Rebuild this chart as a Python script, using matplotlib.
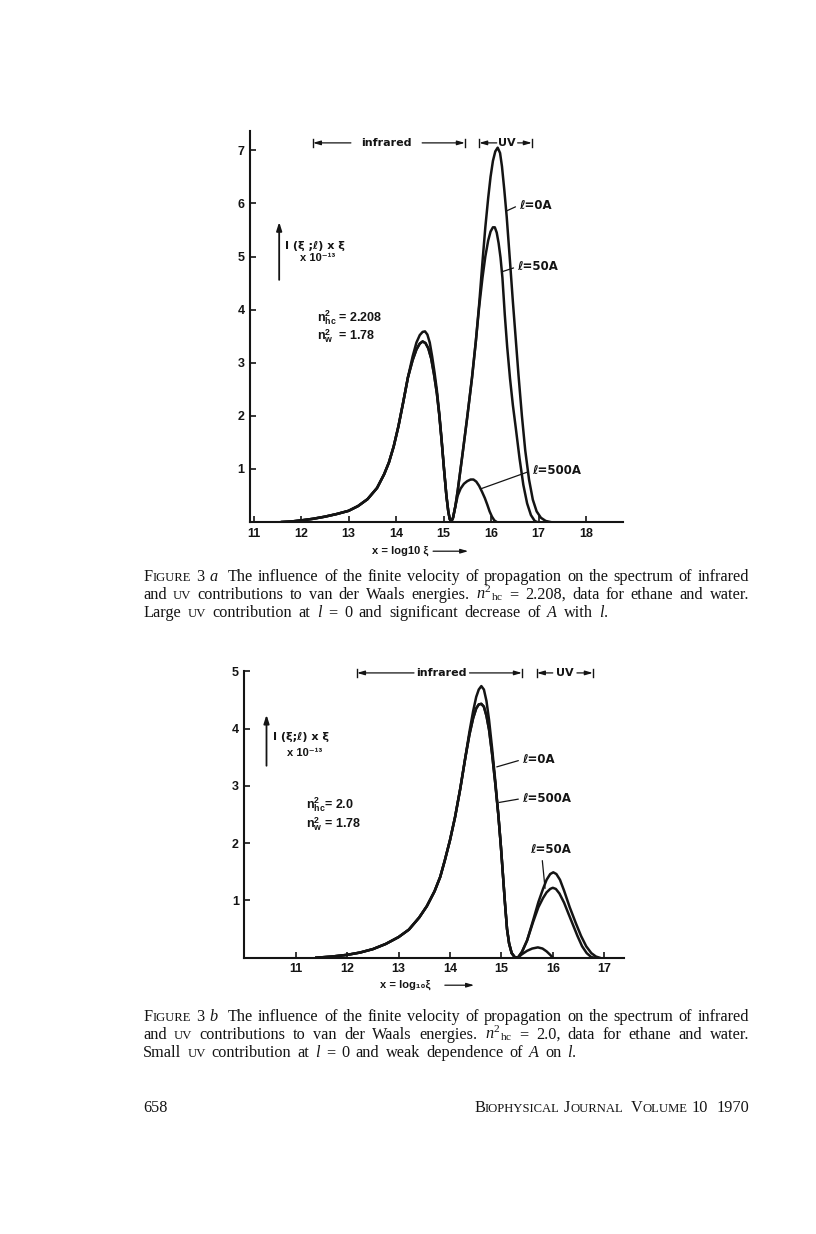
import matplotlib
matplotlib.use("Agg")
import matplotlib.pyplot as plt

# ================= fonts =================
plt.rcParams["font.family"] = ["Liberation Sans", "DejaVu Sans"]
plt.rcParams["font.weight"] = "bold"
plt.rcParams["mathtext.fontset"] = "custom"
plt.rcParams["mathtext.rm"] = "Liberation Serif:style=normal:weight=normal"
plt.rcParams["mathtext.it"] = "Liberation Serif:style=italic:weight=normal"
plt.rcParams["mathtext.bf"] = "Liberation Sans:style=normal:weight=bold"

INK = "#141414"
LETTER = ["DejaVu Sans"]  # wider lettering for the hand-lettered labels

# ================= Figure 3a data (x = log10 xi, y = I x xi x 1e-13) =================
A_L0_X = [11.6, 11.8, 12.0, 12.25, 12.5, 12.75, 13.0, 13.2, 13.4, 13.6, 13.75, 13.85, 13.95,
          14.05, 14.15, 14.25, 14.35, 14.43, 14.5, 14.56, 14.61, 14.66, 14.71, 14.76, 14.81,
          14.86, 14.91, 14.96, 15.01, 15.06, 15.1, 15.13, 15.16, 15.2, 15.25, 15.3, 15.4,
          15.5, 15.6, 15.68, 15.75, 15.82, 15.88, 15.94, 15.99, 16.04, 16.09, 16.14, 16.19,
          16.23, 16.28, 16.33, 16.4, 16.46, 16.52, 16.58, 16.65, 16.72, 16.8, 16.88, 16.96,
          17.05, 17.15, 17.25]
A_L0_Y = [0.0, 0.01, 0.03, 0.06, 0.1, 0.15, 0.21, 0.3, 0.43, 0.64, 0.9, 1.12, 1.42,
          1.8, 2.25, 2.72, 3.12, 3.38, 3.52, 3.58, 3.59, 3.53, 3.38, 3.12, 2.82,
          2.48, 2.05, 1.55, 1.0, 0.5, 0.2, 0.06, 0.0, 0.08, 0.3, 0.6, 1.28,
          1.98, 2.72, 3.4, 4.1, 4.9, 5.55, 6.1, 6.5, 6.8, 6.98, 7.05, 6.95,
          6.7, 6.25, 5.75, 4.9, 4.15, 3.45, 2.75, 2.0, 1.35, 0.8, 0.42, 0.2,
          0.08, 0.02, 0.0]

A_L50_X = [11.6, 11.8, 12.0, 12.25, 12.5, 12.75, 13.0, 13.2, 13.4, 13.6, 13.75, 13.85, 13.95,
           14.05, 14.15, 14.25, 14.35, 14.43, 14.5, 14.56, 14.62, 14.68, 14.74, 14.8, 14.86,
           14.91, 14.96, 15.01, 15.06, 15.1, 15.13, 15.16, 15.2, 15.25, 15.3, 15.4, 15.5,
           15.6, 15.68, 15.75, 15.82, 15.88, 15.94, 15.99, 16.04, 16.08, 16.12, 16.16, 16.2,
           16.24, 16.29, 16.34, 16.4, 16.46, 16.52, 16.6, 16.68, 16.76, 16.84, 16.92, 16.97]
A_L50_Y = [0.0, 0.01, 0.03, 0.06, 0.1, 0.15, 0.21, 0.3, 0.43, 0.64, 0.9, 1.12, 1.42,
           1.8, 2.25, 2.72, 3.05, 3.25, 3.36, 3.4, 3.37, 3.27, 3.08, 2.78, 2.42,
           2.02, 1.53, 1.0, 0.5, 0.2, 0.06, 0.0, 0.08, 0.3, 0.6, 1.28, 1.98,
           2.72, 3.4, 4.05, 4.6, 5.0, 5.3, 5.47, 5.55, 5.55, 5.45, 5.25, 4.98,
           4.6, 3.9, 3.3, 2.7, 2.2, 1.78, 1.2, 0.7, 0.35, 0.13, 0.02, 0.0]

A_L500_X = [11.6, 11.8, 12.0, 12.25, 12.5, 12.75, 13.0, 13.2, 13.4, 13.6, 13.75, 13.85, 13.95,
            14.05, 14.15, 14.25, 14.35, 14.43, 14.5, 14.56, 14.62, 14.68, 14.74, 14.8, 14.86,
            14.91, 14.96, 15.01, 15.06, 15.1, 15.13, 15.16, 15.2, 15.25, 15.3, 15.36, 15.43,
            15.5, 15.57, 15.63, 15.69, 15.75, 15.81, 15.87, 15.92, 15.97, 16.02, 16.07, 16.12]
A_L500_Y = [0.0, 0.01, 0.03, 0.06, 0.1, 0.15, 0.21, 0.3, 0.43, 0.64, 0.9, 1.12, 1.42,
            1.8, 2.25, 2.72, 3.05, 3.25, 3.36, 3.4, 3.37, 3.27, 3.08, 2.78, 2.42,
            2.02, 1.53, 1.0, 0.5, 0.2, 0.06, 0.0, 0.08, 0.3, 0.5, 0.63, 0.72,
            0.77, 0.8, 0.8, 0.76, 0.68, 0.57, 0.45, 0.33, 0.2, 0.1, 0.03, 0.0]

A_XTICKS = [11, 12, 13, 14, 15, 16, 17, 18]
A_YTICKS = [1, 2, 3, 4, 5, 6, 7]

# ================= Figure 3b data =================
B_L0_X = [11.4, 11.7, 12.0, 12.25, 12.5, 12.75, 13.0, 13.2, 13.4, 13.55, 13.7, 13.81, 13.9,
          14.0, 14.1, 14.2, 14.3, 14.38, 14.45, 14.51, 14.56, 14.61, 14.66, 14.71, 14.76,
          14.82, 14.88, 14.94, 14.99, 15.03, 15.07, 15.11, 15.15, 15.2, 15.26, 15.32, 15.4,
          15.5, 15.62, 15.72, 15.81, 15.88, 15.95, 16.01, 16.07, 16.14, 16.22, 16.33, 16.45,
          16.55, 16.65, 16.75, 16.84, 16.91]
B_L0_Y = [0.0, 0.02, 0.05, 0.09, 0.15, 0.24, 0.36, 0.49, 0.7, 0.9, 1.16, 1.41, 1.7,
          2.05, 2.46, 2.95, 3.5, 3.95, 4.3, 4.55, 4.68, 4.74, 4.68, 4.48, 4.15,
          3.65, 3.1, 2.5, 1.95, 1.45, 0.95, 0.5, 0.25, 0.08, 0.01, 0.0, 0.1,
          0.3, 0.66, 0.97, 1.2, 1.36, 1.46, 1.49, 1.46, 1.36, 1.17, 0.88, 0.6,
          0.38, 0.2, 0.08, 0.02, 0.0]

B_L50_X = [11.4, 11.7, 12.0, 12.25, 12.5, 12.75, 13.0, 13.2, 13.4, 13.55, 13.7, 13.81, 13.9,
           14.0, 14.1, 14.2, 14.3, 14.38, 14.45, 14.51, 14.56, 14.61, 14.66, 14.71, 14.76,
           14.82, 14.88, 14.94, 14.99, 15.03, 15.07, 15.11, 15.15, 15.2, 15.26, 15.32, 15.4,
           15.5, 15.62, 15.72, 15.81, 15.88, 15.95, 16.0, 16.06, 16.13, 16.22, 16.3, 16.39,
           16.48, 16.57, 16.66, 16.75, 16.81]
B_L50_Y = [0.0, 0.02, 0.05, 0.09, 0.15, 0.24, 0.36, 0.49, 0.7, 0.9, 1.16, 1.41, 1.7,
           2.05, 2.46, 2.95, 3.5, 3.9, 4.18, 4.35, 4.42, 4.43, 4.38, 4.22, 3.98,
           3.55, 3.05, 2.5, 1.95, 1.45, 0.95, 0.5, 0.25, 0.08, 0.01, 0.0, 0.1,
           0.3, 0.63, 0.88, 1.04, 1.14, 1.2, 1.22, 1.2, 1.12, 0.96, 0.78, 0.58,
           0.38, 0.2, 0.08, 0.01, 0.0]

B_L500_X = [11.4, 11.7, 12.0, 12.25, 12.5, 12.75, 13.0, 13.2, 13.4, 13.55, 13.7, 13.81, 13.9,
            14.0, 14.1, 14.2, 14.3, 14.38, 14.45, 14.51, 14.56, 14.61, 14.66, 14.71, 14.76,
            14.82, 14.88, 14.94, 14.99, 15.03, 15.07, 15.11, 15.15, 15.2, 15.26, 15.32, 15.4,
            15.5, 15.6, 15.71, 15.8, 15.88, 15.95, 16.0]
B_L500_Y = [0.0, 0.02, 0.05, 0.09, 0.15, 0.24, 0.36, 0.49, 0.7, 0.9, 1.16, 1.41, 1.7,
            2.05, 2.46, 2.95, 3.5, 3.9, 4.18, 4.35, 4.42, 4.43, 4.38, 4.22, 3.98,
            3.55, 3.05, 2.5, 1.95, 1.45, 0.95, 0.5, 0.25, 0.08, 0.01, 0.0, 0.06,
            0.12, 0.16, 0.18, 0.16, 0.11, 0.05, 0.0]

B_XTICKS = [11, 12, 13, 14, 15, 16, 17]
B_YTICKS = [1, 2, 3, 4, 5]

# band limits (log10 xi) marked above each plot
A_IR_BAND = (12.25, 15.45)
A_UV_BAND = (15.75, 16.86)
B_IR_BAND = (12.19, 15.40)
B_UV_BAND = (15.69, 16.78)


def setup_axes(ax, xlim, ylim, xticks, yticks):
    ax.set_xlim(*xlim)
    ax.set_ylim(*ylim)
    ax.patch.set_alpha(0)
    for s in ("top", "right"):
        ax.spines[s].set_visible(False)
    for s in ("left", "bottom"):
        ax.spines[s].set_linewidth(1.5)
        ax.spines[s].set_color(INK)
    ax.set_xticks(xticks)
    ax.set_yticks(yticks)
    ax.tick_params(direction="in", length=4.5, width=1.2, labelsize=9, pad=4, colors=INK)


def band(ax, lo, hi, y, label, gap_lo, gap_hi, d):
    arrow = dict(arrowstyle="-|>,head_length=0.45,head_width=0.13", lw=0.9, color=INK,
                 shrinkA=0, shrinkB=0)
    ax.annotate("", xy=(lo, y), xytext=(gap_lo, y), arrowprops=arrow, annotation_clip=False)
    ax.annotate("", xy=(hi, y), xytext=(gap_hi, y), arrowprops=arrow, annotation_clip=False)
    for xb in (lo, hi):
        ax.plot([xb, xb], [y - d, y + d], color=INK, lw=1.0, clip_on=False)
    ax.text((gap_lo + gap_hi) / 2, y, label, ha="center", va="center", fontsize=8,
            color=INK, family=LETTER)


def leader(ax, label, xy, xytext, relpos=(0, 0.5)):
    ax.annotate(label, xy=xy, xytext=xytext, fontsize=8.5, color=INK, ha="left", va="center",
                family=LETTER,
                arrowprops=dict(arrowstyle="-", lw=0.9, color=INK, shrinkA=1, shrinkB=0,
                                relpos=relpos))


def up_arrow(ax, x, y0, y1):
    ax.annotate("", xy=(x, y1), xytext=(x, y0),
                arrowprops=dict(arrowstyle="-|>,head_length=0.5,head_width=0.16", lw=1.3,
                                color=INK, shrinkA=0, shrinkB=0))


def x_label(ax, x, y, text, a0, a1):
    ax.text(x, y, text, fontsize=8, color=INK, va="center")
    ax.annotate("", xy=(a1, y), xytext=(a0, y), annotation_clip=False,
                arrowprops=dict(arrowstyle="-|>,head_length=0.45,head_width=0.13", lw=0.9,
                                color=INK, shrinkA=0, shrinkB=0))


fig = plt.figure(figsize=(8.16, 12.34), dpi=100)
W, H = 816.0, 1234.0

# ---------------- plot a ----------------
axa = fig.add_axes([250.2 / W, 1 - 522 / H, 372.4 / W, 390.8 / H])
setup_axes(axa, (10.93, 18.77), (0, 7.36), A_XTICKS, A_YTICKS)
for xs, ys in ((A_L0_X, A_L0_Y), (A_L50_X, A_L50_Y), (A_L500_X, A_L500_Y)):
    axa.plot(xs, ys, color=INK, lw=1.8, solid_joinstyle="round")

band(axa, A_IR_BAND[0], A_IR_BAND[1], 7.14, "infrared", 13.05, 14.55, 0.08)
band(axa, A_UV_BAND[0], A_UV_BAND[1], 7.14, "UV", 16.12, 16.56, 0.08)
leader(axa, "ℓ=0A", (16.33, 5.86), (16.6, 5.97))
leader(axa, "ℓ=50A", (16.22, 4.71), (16.56, 4.81))
leader(axa, "ℓ=500A", (15.8, 0.63), (16.86, 0.97))

up_arrow(axa, 11.54, 4.56, 5.65)
axa.text(11.66, 5.2, "I (ξ ;ℓ) x ξ", fontsize=8, color=INK, va="center", family=LETTER)
axa.text(12.36, 4.98, "x 10⁻¹³", fontsize=8, color=INK, va="center", ha="center")
axa.text(12.34, 3.84, r"$\mathbf{n}^{\mathbf{2}}_{\mathbf{hc}}$ = 2.208", fontsize=9,
         color=INK, va="center")
axa.text(12.34, 3.5, r"$\mathbf{n}^{\mathbf{2}}_{\mathbf{w}}$  = 1.78", fontsize=9,
         color=INK, va="center")
x_label(axa, 13.49, -0.55, "x = log10 ξ", 14.78, 15.52)

# ---------------- plot b ----------------
axb = fig.add_axes([244.4 / W, 1 - 957.7 / H, 379.3 / W, 286.5 / H])
setup_axes(axb, (10.0, 17.38), (0, 5.0), B_XTICKS, B_YTICKS)
for xs, ys in ((B_L0_X, B_L0_Y), (B_L50_X, B_L50_Y), (B_L500_X, B_L500_Y)):
    axb.plot(xs, ys, color=INK, lw=1.8, solid_joinstyle="round")

band(axb, B_IR_BAND[0], B_IR_BAND[1], 4.97, "infrared", 13.3, 14.38, 0.075)
band(axb, B_UV_BAND[0], B_UV_BAND[1], 4.97, "UV", 16.0, 16.47, 0.075)
leader(axb, "ℓ=0A", (14.91, 3.33), (15.41, 3.46))
leader(axb, "ℓ=500A", (14.96, 2.71), (15.41, 2.78))
leader(axb, "ℓ=50A", (15.85, 1.21), (15.55, 1.88), relpos=(0.3, 0))

up_arrow(axb, 10.43, 3.35, 4.24)
axb.text(10.56, 3.86, "I (ξ;ℓ) x ξ", fontsize=8, color=INK, va="center", family=LETTER)
axb.text(11.18, 3.57, "x 10⁻¹³", fontsize=8, color=INK, va="center", ha="center")
axb.text(11.2, 2.66, r"$\mathbf{n}^{\mathbf{2}}_{\mathbf{hc}}$= 2.0", fontsize=9,
         color=INK, va="center")
axb.text(11.2, 2.33, r"$\mathbf{n}^{\mathbf{2}}_{\mathbf{w}}$ = 1.78", fontsize=9,
         color=INK, va="center")
x_label(axb, 12.64, -0.48, "x = log₁₀ξ", 13.9, 14.47)

# ================= captions (justified, set word by word) =================
CAP = dict(family="Liberation Serif", weight="normal", color=INK)
SIZE = 11.7
rend = fig.canvas.get_renderer()


def sc(word, first=True):
    # small caps
    if not first:
        return [(word.upper(), {"size": SIZE * 0.78})]
    return [(word[0], {}), (word[1:].upper(), {"size": SIZE * 0.78})]


def it(s):
    return [(s, {"style": "italic"})]


def draw_line(words, y, x0=143, x1=749, justify=True, right=False):
    words = [[(w, {})] if isinstance(w, str) else w for w in words]
    widths = []
    for w in words:
        tot = 0
        for s, p in w:
            if not s:
                continue
            t = fig.text(0, 0, s, size=p.get("size", SIZE), style=p.get("style", "normal"), **CAP)
            tot += t.get_window_extent(rend).width
            t.remove()
        widths.append(tot)
    space = SIZE * 100 / 72 * 0.25
    if justify:
        space = (x1 - x0 - sum(widths)) / (len(words) - 1)
    x = x0
    if right:
        x = x1 - sum(widths) - space * (len(words) - 1)
    yb = 1 - y / H
    for w, wd in zip(words, widths):
        xx = x
        for s, p in w:
            if not s:
                continue
            t = fig.text(xx / W, yb, s, size=p.get("size", SIZE), style=p.get("style", "normal"),
                         va="baseline", ha="left", **CAP)
            xx += t.get_window_extent(rend).width
        x += wd + space


NHC = [(r"$n^2{}_{\mathrm{hc}}$", {})]
UV = sc("uv", first=False)

draw_line([sc("Figure"), "3", it("a"), "", "The", "influence", "of", "the", "finite", "velocity",
           "of", "propagation", "on", "the", "spectrum", "of", "infrared"], 581)
draw_line(["and", UV, "contributions", "to", "van", "der", "Waals", "energies.", NHC, "=",
           "2.208,", "data", "for", "ethane", "and", "water."], 599)
draw_line(["Large", UV, "contribution", "at", it("l"), "=", "0", "and", "significant",
           "decrease", "of", it("A"), "with", it("l") + [(".", {})]], 617, x1=608)

draw_line([sc("Figure"), "3", it("b"), "", "The", "influence", "of", "the", "finite", "velocity",
           "of", "propagation", "on", "the", "spectrum", "of", "infrared"], 1021)
draw_line(["and", UV, "contributions", "to", "van", "der", "Waals", "energies.", NHC, "=",
           "2.0,", "data", "for", "ethane", "and", "water."], 1039)
draw_line(["Small", UV, "contribution", "at", it("l"), "=", "0", "and", "weak",
           "dependence", "of", it("A"), "on", it("l") + [(".", {})]], 1057, x1=576)

draw_line(["658"], 1112, justify=False)
draw_line([sc("Biophysical"), sc("Journal"), "", sc("Volume"), "10", "", "1970"], 1112,
          justify=False, right=True)

fig.savefig("out.png", dpi=100, facecolor="white")
